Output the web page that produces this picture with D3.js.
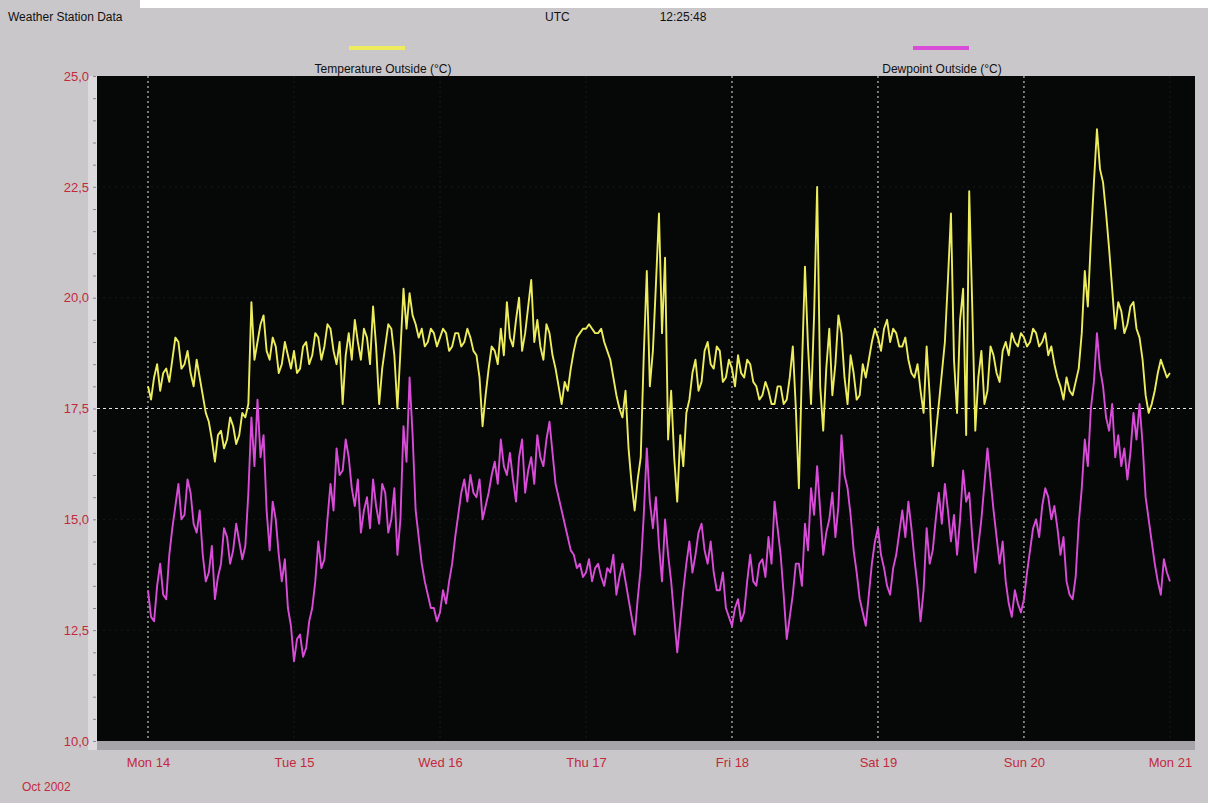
<!DOCTYPE html>
<html>
<head>
<meta charset="utf-8">
<script src="https://cdn.jsdelivr.net/npm/d3@7"></script>
<style>
  body { margin: 0; background: #cac7cb; }
  svg { display: block; font-family: "Liberation Sans", Arial, sans-serif; }
</style>
</head>
<body>
<svg id="chart" width="1208" height="803"></svg>
<script>
// ---- labels ----
const stationTitle = "Weather Station Data";
const clockLabels = ["UTC", "12:25:48"];
const seriesNames = ["Temperature Outside (°C)", "Dewpoint Outside (°C)"];
const monthLabel = "Oct 2002";
const dayLabels = ["Mon 14", "Tue 15", "Wed 16", "Thu 17", "Fri 18", "Sat 19", "Sun 20", "Mon 21"];
const yTicks = [10, 12.5, 15, 17.5, 20, 22.5, 25];
const referenceLevel = 17.5;
const brightGridDays = [0, 4, 5, 6];

// first sample: Mon 14 Oct 2002, 00:00, one sample every 30 minutes
const startTime = new Date(2002, 9, 14, 0, 0);
const sampleMinutes = 30;

// temperature, °C (each row = half a day, pairs of :00 / :30 readings)
const temperature = [
  18.0,17.7, 18.2,18.5, 17.9,18.3, 18.4,18.1, 18.6,19.1, 19.0,18.4, 18.5,18.8, 18.3,18.0, 18.6,18.2, 17.8,17.4, 17.2,16.8, 16.3,16.9,
  17.0,16.6, 16.8,17.3, 17.1,16.7, 16.9,17.4, 17.3,17.6, 19.9,18.6, 19.0,19.4, 19.6,18.8, 18.6,19.1, 18.9,18.3, 18.5,19.0, 18.7,18.4,
  18.8,18.3, 18.4,18.9, 19.0,18.5, 18.7,19.2, 19.1,18.6, 18.9,19.4, 19.3,18.8, 18.5,19.0, 17.6,18.7, 19.2,18.6, 19.5,19.0, 18.6,19.3,
  19.1,18.5, 19.8,18.9, 17.6,18.4, 18.9,19.4, 19.3,18.7, 17.5,18.8, 20.2,19.3, 20.1,19.6, 19.4,19.1, 19.3,18.9, 19.0,19.3, 19.2,18.9,
  19.1,19.3, 19.2,18.8, 18.9,19.2, 19.2,18.9, 19.0,19.3, 19.1,18.8, 18.7,18.2, 17.1,17.8, 18.4,18.9, 18.8,18.5, 19.3,18.7, 19.9,19.1,
  18.9,19.5, 20.0,18.8, 19.2,19.8, 20.4,19.0, 19.5,18.9, 18.6,19.4, 19.2,18.7, 18.4,18.0, 17.6,18.1, 17.9,18.4, 18.8,19.1, 19.2,19.3,
  19.3,19.4, 19.3,19.2, 19.2,19.3, 19.0,18.8, 18.6,18.2, 17.8,17.5, 17.3,17.9, 16.6,15.8, 15.2,15.9, 16.4,18.7, 20.6,18.0, 18.8,20.3,
  21.9,19.2, 20.9,16.8, 17.9,16.4, 15.4,16.9, 16.2,17.4, 17.7,18.3, 18.6,17.9, 18.1,18.8, 19.0,18.5, 18.4,18.9, 18.8,18.1, 18.2,18.6,
  18.4,18.0, 18.7,18.3, 18.2,18.6, 18.5,18.1, 18.0,17.7, 17.8,18.1, 17.9,17.6, 17.6,18.0, 18.0,17.6, 17.7,18.2, 18.9,17.5, 15.7,18.4,
  20.7,18.9, 17.6,19.6, 22.5,18.0, 17.0,18.4, 19.3,17.8, 18.5,19.6, 19.2,18.2, 17.6,18.7, 18.3,17.7, 17.8,18.5, 18.2,18.6, 19.0,19.3,
  19.1,18.8, 19.3,19.5, 19.0,19.3, 19.2,18.9, 18.9,19.1, 18.6,18.3, 18.2,18.5, 17.9,17.4, 18.9,17.8, 16.2,16.9, 17.6,18.3, 19.0,20.4,
  21.9,18.6, 17.4,19.5, 20.2,16.9, 22.4,19.8, 17.0,18.2, 18.8,17.6, 17.9,18.9, 18.7,18.3, 18.1,18.8, 19.0,18.7, 19.2,19.0, 18.9,19.2,
  19.1,18.9, 19.0,19.3, 19.2,18.9, 19.0,19.2, 18.7,18.9, 18.5,18.2, 18.0,17.7, 18.2,17.9, 17.8,18.1, 18.4,19.2, 20.6,19.8, 21.3,22.6,
  23.8,22.9, 22.6,21.9, 21.1,20.2, 19.3,19.9, 19.7,19.2, 19.4,19.8, 19.9,19.3, 19.1,18.6, 17.8,17.4, 17.6,17.9, 18.3,18.6, 18.4,18.2,
  18.3
];

// dewpoint, °C (same sampling)
const dewpoint = [
  13.4,12.8, 12.7,13.5, 14.0,13.3, 13.2,14.2, 14.8,15.3, 15.8,15.0, 15.1,15.9, 15.6,14.9, 14.7,15.2, 14.2,13.6, 13.8,14.4, 13.2,13.7,
  14.0,14.8, 14.6,14.0, 14.3,14.9, 14.5,14.1, 14.4,15.6, 17.3,16.2, 17.7,16.4, 16.9,15.2, 14.3,15.4, 15.0,14.2, 13.6,14.1, 13.0,12.6,
  11.8,12.3, 12.4,11.9, 12.1,12.7, 13.0,13.6, 14.5,13.9, 14.1,15.0, 15.8,15.2, 16.6,16.0, 16.1,16.8, 16.4,15.7, 15.3,15.9, 14.7,15.2,
  15.5,14.8, 15.9,15.3, 14.9,15.8, 15.6,14.7, 15.0,15.7, 14.2,15.0, 17.1,16.3, 18.2,16.9, 15.2,14.6, 14.0,13.6, 13.3,13.0, 13.0,12.7,
  12.9,13.4, 13.1,13.6, 14.0,14.6, 15.1,15.6, 15.9,15.4, 16.0,15.6, 15.5,15.9, 15.0,15.3, 15.6,16.0, 16.3,15.8, 16.8,16.2, 16.0,16.5,
  15.9,15.4, 16.4,16.8, 15.6,16.1, 16.4,15.8, 16.9,16.4, 16.2,16.8, 17.2,16.5, 15.8,15.5, 15.2,14.9, 14.6,14.3, 14.2,13.9, 14.0,13.7,
  13.8,14.1, 13.6,13.9, 14.0,13.7, 13.5,13.9, 13.8,14.2, 13.3,13.7, 14.0,13.6, 13.2,12.8, 12.4,13.2, 13.9,15.1, 16.6,15.4, 14.8,15.5,
  14.4,13.6, 15.0,14.2, 13.6,12.8, 12.0,12.7, 13.4,14.0, 14.5,13.8, 14.2,14.7, 14.9,14.3, 14.0,14.5, 13.8,13.4, 13.4,13.8, 13.0,12.8,
  12.6,13.0, 13.2,12.7, 12.9,13.6, 14.2,13.6, 13.5,14.0, 14.1,13.7, 14.6,14.0, 15.4,14.8, 14.2,13.3, 12.3,12.8, 13.3,14.0, 14.0,13.5,
  14.9,14.3, 15.7,15.1, 16.2,15.2, 14.2,14.7, 15.0,15.6, 14.6,15.3, 16.9,16.0, 15.7,15.1, 14.3,13.8, 13.2,12.9, 12.6,13.3, 14.0,14.5,
  14.8,14.2, 13.9,13.5, 13.3,13.9, 14.2,14.7, 15.2,14.6, 15.4,14.8, 14.1,13.5, 12.7,13.4, 14.8,14.0, 14.3,15.0, 15.6,14.9, 15.8,15.2,
  14.5,15.1, 14.2,15.0, 16.1,15.4, 15.6,14.6, 13.8,14.4, 15.0,15.8, 16.6,15.9, 15.2,14.6, 14.0,14.5, 13.6,13.1, 12.8,13.4, 13.1,12.9,
  13.2,13.8, 14.3,14.8, 15.0,14.6, 15.3,15.7, 15.5,15.0, 15.3,14.8, 14.2,14.6, 13.6,13.3, 13.2,13.7, 14.9,15.7, 16.8,16.2, 17.5,18.1,
  19.2,18.4, 18.0,17.3, 17.0,17.6, 16.4,16.9, 16.2,16.6, 15.9,16.5, 17.4,16.8, 17.6,16.7, 15.5,15.0, 14.5,14.0, 13.6,13.3, 14.1,13.8,
  13.6
];

// ---- drawing ----
const svg = d3.select("#chart");
const W = 1208, H = 803;
const plot = { left: 97, right: 1195, top: 76, bottom: 741 };
const labelRed = "#c22a3c";
const tempColor = "#ecec5c";
const dewColor = "#d84cd8";

const x = d3.scaleTime()
  .domain([d3.timeMinute.offset(startTime, -503), d3.timeMinute.offset(startTime, 7 * 1440 + 247)])
  .range([plot.left, plot.right]);
const y = d3.scaleLinear().domain([10, 25]).range([plot.bottom, plot.top]);

const deLocale = d3.formatLocale({ decimal: ",", thousands: ".", grouping: [3], currency: ["", " €"] });
const fmt = deLocale.format(".1f");

const dayDates = dayLabels.map((_, i) => d3.timeDay.offset(startTime, i));
const timeOf = i => d3.timeMinute.offset(startTime, i * sampleMinutes);

// page background and top strip
svg.append("rect").attr("width", W).attr("height", H).attr("fill", "#cac7cb");
svg.append("rect").attr("x", 140).attr("y", 0).attr("width", W - 140).attr("height", 8).attr("fill", "#ffffff");

// header texts
svg.append("text").attr("x", 8).attr("y", 21).attr("font-size", 12).attr("fill", "#111").text(stationTitle);
svg.append("text").attr("x", 545).attr("y", 21).attr("font-size", 12).attr("fill", "#111").text(clockLabels[0]);
svg.append("text").attr("x", 683).attr("y", 21).attr("font-size", 12).attr("text-anchor", "middle").attr("fill", "#111").text(clockLabels[1]);

// legend
const legend = [
  { name: seriesNames[0], color: tempColor, cx: 377, tx: 383 },
  { name: seriesNames[1], color: dewColor, cx: 941, tx: 942 }
];
legend.forEach(l => {
  svg.append("rect").attr("x", l.cx - 28).attr("y", 46).attr("width", 56).attr("height", 4).attr("fill", l.color);
  svg.append("text").attr("x", l.tx).attr("y", 73).attr("font-size", 12).attr("text-anchor", "middle")
    .attr("fill", "#111").text(l.name);
});

// side strip and bottom strip of the plot frame
svg.append("rect").attr("x", 88).attr("y", plot.top).attr("width", plot.left - 88).attr("height", plot.bottom - plot.top + 9)
  .attr("fill", "#dcdadd");
svg.append("rect").attr("x", plot.left).attr("y", plot.bottom).attr("width", plot.right - plot.left).attr("height", 9)
  .attr("fill", "#a6a4a8");

// plot background
svg.append("rect").attr("x", plot.left).attr("y", plot.top)
  .attr("width", plot.right - plot.left).attr("height", plot.bottom - plot.top).attr("fill", "#050807");

// horizontal grid
svg.append("g").selectAll("line").data(yTicks.filter(v => v > 10 && v < 25)).join("line")
  .attr("x1", plot.left).attr("x2", plot.right)
  .attr("y1", d => y(d)).attr("y2", d => y(d))
  .attr("stroke", d => d === referenceLevel ? "#e6e6e6" : "#161918")
  .attr("stroke-width", 1)
  .attr("stroke-dasharray", d => d === referenceLevel ? "3,3" : "2,4");

// vertical day grid
svg.append("g").selectAll("line").data(dayDates).join("line")
  .attr("x1", d => x(d)).attr("x2", d => x(d))
  .attr("y1", plot.top).attr("y2", plot.bottom)
  .attr("stroke", (d, i) => brightGridDays.includes(i) ? "#e8e8e8" : "#181b1a")
  .attr("stroke-width", 1)
  .attr("stroke-dasharray", "2,3");

// series
const line = d3.line().x((d, i) => x(timeOf(i))).y(d => y(d));
svg.append("clipPath").attr("id", "plotclip").append("rect")
  .attr("x", plot.left).attr("y", plot.top).attr("width", plot.right - plot.left).attr("height", plot.bottom - plot.top);
const series = svg.append("g").attr("clip-path", "url(#plotclip)");
series.append("path").datum(temperature).attr("d", line)
  .attr("fill", "none").attr("stroke", tempColor).attr("stroke-width", 1.9).attr("stroke-linejoin", "round");
series.append("path").datum(dewpoint).attr("d", line)
  .attr("fill", "none").attr("stroke", dewColor).attr("stroke-width", 1.9).attr("stroke-linejoin", "round");

// minor ticks on the side strip
const minor = svg.append("g").attr("transform", `translate(${plot.left - 1},0)`)
  .call(d3.axisLeft(y).ticks(30).tickSize(3).tickFormat(""));
minor.select(".domain").remove();
minor.selectAll("line").attr("stroke", "#8a888c");

// y axis labels
const yAxis = svg.append("g").attr("transform", "translate(89,0)")
  .call(d3.axisLeft(y).tickValues(yTicks).tickSize(0).tickPadding(0).tickFormat(fmt));
yAxis.select(".domain").remove();
yAxis.selectAll("text").attr("fill", labelRed).attr("font-size", 13)
  .attr("font-family", "'Liberation Sans', Arial, sans-serif");

// x axis labels
const xAxis = svg.append("g").attr("transform", `translate(0,${plot.bottom + 17})`)
  .call(d3.axisBottom(x).tickValues(dayDates).tickSize(0).tickPadding(0).tickFormat((d, i) => dayLabels[i]));
xAxis.select(".domain").remove();
xAxis.selectAll("text").attr("fill", labelRed).attr("font-size", 13)
  .attr("font-family", "'Liberation Sans', Arial, sans-serif");

svg.append("text").attr("x", 22).attr("y", 791).attr("font-size", 12).attr("fill", labelRed).text(monthLabel);
</script>
</body>
</html>
